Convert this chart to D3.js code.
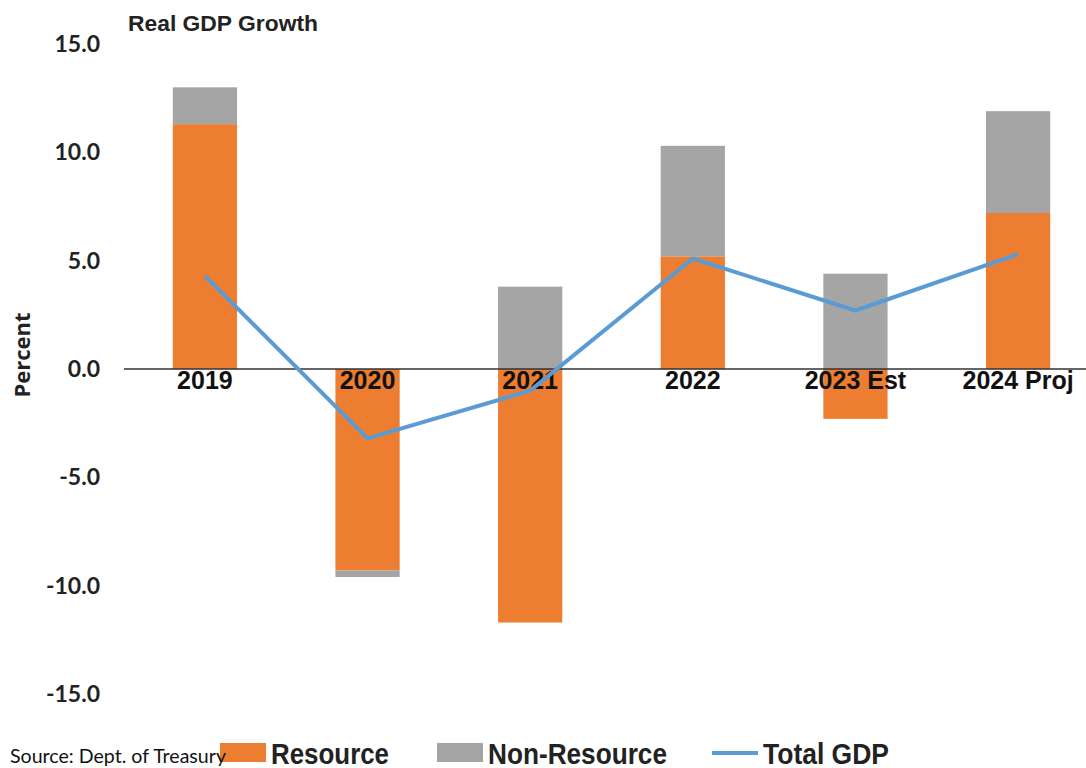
<!DOCTYPE html>
<html>
<head>
<meta charset="utf-8">
<script src="https://cdn.jsdelivr.net/npm/d3@7"></script>
<style>
  body { margin: 0; background: #fff; }
  svg { display: block; }
</style>
</head>
<body>
<div id="chart"></div>
<script>
// chart values
const years = ["2019", "2020", "2021", "2022", "2023 Est", "2024 Proj"];
const resource = [11.3, -9.3, -11.7, 5.2, -2.3, 7.2];
const nonResource = [1.7, -0.3, 3.8, 5.1, 4.4, 4.7];
const totalGdp = [4.3, -3.2, -1.0, 5.1, 2.7, 5.3];
const yTicks = [15, 10, 5, 0, -5, -10, -15];

const width = 1086, height = 768;
const margins = { top: 44, right: -13, bottom: 74, left: 124 };
const innerWidth = width - margins.left - margins.right;
const innerHeight = height - margins.top - margins.bottom;

const colors = { resource: "#ED7D31", nonResource: "#A5A5A5", total: "#5B9BD5" };
const narrow = "'Liberation Sans Narrow', 'Liberation Sans', Arial, sans-serif";

const svg = d3.select("#chart").append("svg")
  .attr("width", width)
  .attr("height", height);

const g = svg.append("g")
  .attr("transform", `translate(${margins.left},${margins.top})`);

const xScale = d3.scaleBand()
  .domain(years)
  .range([0, innerWidth])
  .paddingInner(0.605)
  .paddingOuter(0.3);

const yScale = d3.scaleLinear()
  .domain([-15, 15])
  .range([innerHeight, 0]);

// y axis labels only, no line; plain hyphen for negatives like the source
const yAxis = d3.axisLeft(yScale)
  .tickValues(yTicks)
  .tickFormat(d => d.toFixed(1))
  .tickSize(0)
  .tickPadding(24);

g.append("g")
  .call(yAxis)
  .call(s => s.select(".domain").remove())
  .selectAll("text")
  .attr("font-family", "Lato, 'Open Sans', sans-serif")
  .attr("font-weight", "bold")
  .attr("font-size", 23)
  .attr("fill", "#222");

// stacked bars: each piece starts where the previous one in the same direction ended
const stackData = years.map((y, i) => {
  const pieces = [];
  let pos = 0, neg = 0;
  [["resource", resource[i]], ["nonResource", nonResource[i]]].forEach(([key, v]) => {
    if (v >= 0) { pieces.push({ key, y0: pos, y1: pos + v }); pos += v; }
    else { pieces.push({ key, y0: neg, y1: neg + v }); neg += v; }
  });
  return { year: y, pieces };
});

const barGroups = g.selectAll("g.bar")
  .data(stackData)
  .enter().append("g")
  .attr("class", "bar")
  .attr("transform", d => `translate(${xScale(d.year)},0)`);

barGroups.selectAll("rect")
  .data(d => d.pieces)
  .enter().append("rect")
  .attr("x", 0)
  .attr("width", xScale.bandwidth())
  .attr("y", d => yScale(Math.max(d.y0, d.y1)))
  .attr("height", d => Math.abs(yScale(d.y0) - yScale(d.y1)))
  .attr("fill", d => colors[d.key]);

// zero line
g.append("line")
  .attr("x1", 0)
  .attr("x2", innerWidth)
  .attr("y1", yScale(0))
  .attr("y2", yScale(0))
  .attr("stroke", "#333")
  .attr("stroke-width", 1.5);

// category labels
g.selectAll("text.cat")
  .data(years)
  .enter().append("text")
  .attr("class", "cat")
  .attr("x", d => xScale(d) + xScale.bandwidth() / 2)
  .attr("y", yScale(0) + 20)
  .attr("text-anchor", "middle")
  .attr("font-family", narrow)
  .attr("font-weight", "bold")
  .attr("font-size", 25)
  .attr("fill", "#111")
  .text(d => d);

// total GDP line
const line = d3.line()
  .x((d, i) => xScale(years[i]) + xScale.bandwidth() / 2)
  .y(d => yScale(d));

g.append("path")
  .datum(totalGdp)
  .attr("d", line)
  .attr("fill", "none")
  .attr("stroke", colors.total)
  .attr("stroke-width", 4)
  .attr("stroke-linejoin", "round");

// title and axis label
svg.append("text")
  .attr("x", 128)
  .attr("y", 31)
  .attr("font-family", narrow)
  .attr("font-weight", "bold")
  .attr("font-size", 22)
  .attr("fill", "#222")
  .attr("textLength", 190)
  .attr("lengthAdjust", "spacingAndGlyphs")
  .text("Real GDP Growth");

svg.append("text")
  .attr("transform", `translate(30,${margins.top + yScale(0) - 14}) rotate(-90)`)
  .attr("text-anchor", "middle")
  .attr("font-family", "'Open Sans', sans-serif")
  .attr("font-weight", "bold")
  .attr("font-size", 22)
  .attr("fill", "#222")
  .text("Percent");

// legend
const legendItems = [
  { label: "Resource", color: colors.resource, type: "rect", x: 220, w: 118 },
  { label: "Non-Resource", color: colors.nonResource, type: "rect", x: 437, w: 179 },
  { label: "Total GDP", color: colors.total, type: "line", x: 712, w: 126 }
];

const legend = svg.append("g").attr("transform", "translate(0,753)");

legendItems.forEach(item => {
  const lg = legend.append("g").attr("transform", `translate(${item.x},0)`);
  if (item.type === "rect") {
    lg.append("rect").attr("x", 0).attr("y", -10).attr("width", 46).attr("height", 19).attr("fill", item.color);
  } else {
    lg.append("line").attr("x1", 0).attr("x2", 46).attr("y1", 0).attr("y2", 0)
      .attr("stroke", item.color).attr("stroke-width", 4);
  }
  lg.append("text")
    .attr("x", 51)
    .attr("y", 11)
    .attr("font-family", narrow)
    .attr("font-weight", "bold")
    .attr("font-size", 29)
    .attr("fill", "#222")
    .attr("textLength", item.w)
    .attr("lengthAdjust", "spacingAndGlyphs")
    .text(item.label);
});

svg.append("text")
  .attr("x", 10)
  .attr("y", 763)
  .attr("font-family", "Lato, 'Open Sans', sans-serif")
  .attr("font-size", 19)
  .attr("fill", "#111")
  .attr("textLength", 216)
  .attr("lengthAdjust", "spacingAndGlyphs")
  .text("Source: Dept. of Treasury");
</script>
</body>
</html>
